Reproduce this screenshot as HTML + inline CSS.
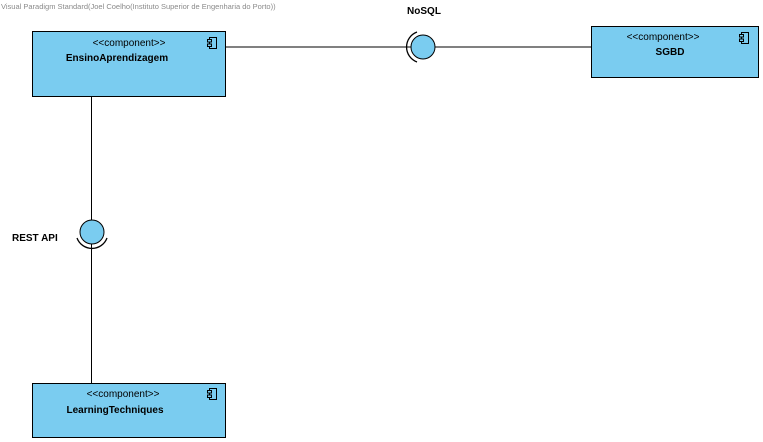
<!DOCTYPE html>
<html><head><style>
html,body{margin:0;padding:0;background:#fff;width:763px;height:442px;overflow:hidden}
svg{display:block;font-family:"Liberation Sans",Arial,sans-serif}
</style></head><body>
<svg width="763" height="442" viewBox="0 0 763 442">
<text x="1" y="9" font-size="7.5" fill="#8a8a8a">Visual Paradigm Standard(Joel Coelho(Instituto Superior de Engenharia do Porto))</text>
<line x1="225" y1="47" x2="591" y2="47" stroke="#000" stroke-width="1"/>
<line x1="91.5" y1="96" x2="91.5" y2="383" stroke="#000" stroke-width="1"/>
<!-- NoSQL -->
<circle cx="423" cy="47" r="12" fill="#7accf0" stroke="#000"/>
<path d="M 417 32 A 16 16 0 0 0 417 62" fill="none" stroke="#000" stroke-width="1.3"/>
<text x="424" y="14" font-size="10" font-weight="bold" text-anchor="middle">NoSQL</text>
<!-- REST API -->
<circle cx="92" cy="232" r="12" fill="#7accf0" stroke="#000"/>
<path d="M 77 238 A 16 16 0 0 0 107 238" fill="none" stroke="#000" stroke-width="1.3"/>
<text x="12" y="241" font-size="10" font-weight="bold">REST API</text>
<!-- Boxes -->
<g>
<rect x="32.5" y="31.5" width="193" height="65" fill="#7accf0" stroke="#000"/>
<text x="129" y="46" font-size="10" text-anchor="middle">&lt;&lt;component&gt;&gt;</text>
<text x="117" y="61" font-size="10" font-weight="bold" text-anchor="middle">EnsinoAprendizagem</text>
<g transform="translate(207,37)" fill="#7accf0" stroke="#000" stroke-width="1"><rect x="2.5" y="0.5" width="7" height="11"/><rect x="0.5" y="2.5" width="4" height="2.5"/><rect x="0.5" y="7" width="4" height="2.5"/></g>
</g>
<g>
<rect x="591.5" y="26.5" width="167" height="51" fill="#7accf0" stroke="#000"/>
<text x="663" y="40" font-size="10" text-anchor="middle">&lt;&lt;component&gt;&gt;</text>
<text x="670" y="55" font-size="10" font-weight="bold" text-anchor="middle">SGBD</text>
<g transform="translate(739,32)" fill="#7accf0" stroke="#000" stroke-width="1"><rect x="2.5" y="0.5" width="7" height="11"/><rect x="0.5" y="2.5" width="4" height="2.5"/><rect x="0.5" y="7" width="4" height="2.5"/></g>
</g>
<g>
<rect x="32.5" y="383.5" width="193" height="54" fill="#7accf0" stroke="#000"/>
<text x="123" y="397" font-size="10" text-anchor="middle">&lt;&lt;component&gt;&gt;</text>
<text x="115" y="413" font-size="10" font-weight="bold" text-anchor="middle">LearningTechniques</text>
<g transform="translate(207,388)" fill="#7accf0" stroke="#000" stroke-width="1"><rect x="2.5" y="0.5" width="7" height="11"/><rect x="0.5" y="2.5" width="4" height="2.5"/><rect x="0.5" y="7" width="4" height="2.5"/></g>
</g>
</svg>
</body></html>
